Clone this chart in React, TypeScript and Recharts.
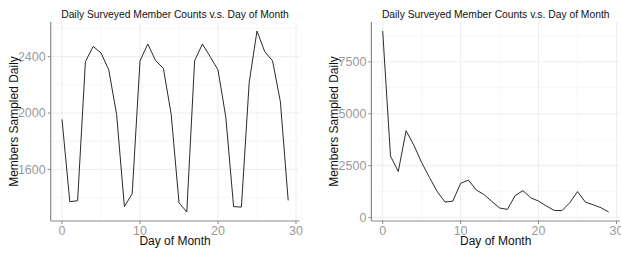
import React from 'react';
import { LineChart, Line, XAxis, YAxis, CartesianGrid } from 'recharts';

const days = [0, 1, 2, 3, 4, 5, 6, 7, 8, 9, 10, 11, 12, 13, 14, 15, 16, 17, 18, 19, 20, 21, 22, 23, 24, 25, 26, 27, 28, 29];
const leftCounts = [1955, 1371, 1378, 2365, 2473, 2426, 2306, 1990, 1336, 1428, 2370, 2490, 2372, 2317, 1990, 1364, 1298, 2370, 2490, 2400, 2306, 1972, 1336, 1333, 2218, 2582, 2435, 2370, 2080, 1380];
const rightCounts = [8983, 2961, 2220, 4183, 3484, 2647, 1934, 1250, 746, 794, 1650, 1806, 1331, 1108, 775, 461, 394, 1060, 1298, 950, 794, 556, 347, 333, 713, 1250, 746, 618, 475, 271];

const xMajorTicks = [0, 10, 20, 30];
const xMinorTicks = [5, 15, 25];
const leftYMajor = [1600, 2000, 2400];
const leftYMinor = [1400, 1800, 2200, 2600];
const rightYMajor = [0, 2500, 5000, 7500];
const rightYMinor = [1250, 3750, 6250, 8750];

const plotTitle = 'Daily Surveyed Member Counts v.s. Day of Month';
const xTitle = 'Day of Month';
const yTitle = 'Members Sampled Daily';

const leftData = days.map((d, i) => ({ day: d, count: leftCounts[i] }));
const rightData = days.map((d, i) => ({ day: d, count: rightCounts[i] }));

const FONT = '"Liberation Sans", Arial, sans-serif';
const AXIS = '#8a8a8a';
const TICK_TEXT = '#9a9a9a';
const TICK_STYLE = { fill: TICK_TEXT, fontSize: 12.5, style: { fontSize: '12.5px' } };

type PanelProps = {
  data: { day: number; count: number }[];
  width: number;
  yAxisWidth: number;
  marginRight: number;
  yDomain: [number, number];
  yMajor: number[];
  yMinor: number[];
  yLabelOffset: number;
};

function Panel({ data, width, yAxisWidth, marginRight, yDomain, yMajor, yMinor, yLabelOffset }: PanelProps) {
  return (
    <LineChart width={width} height={253} data={data} margin={{ top: 22, right: marginRight, left: 0, bottom: 0 }}>
      <CartesianGrid horizontalValues={yMinor} verticalValues={xMinorTicks} stroke="#f4f4f4" strokeWidth={0.7} />
      <CartesianGrid horizontalValues={yMajor} verticalValues={xMajorTicks} stroke="#ededed" strokeWidth={1} />
      <XAxis
        dataKey="day"
        type="number"
        domain={[-1.45, 30.45]}
        allowDataOverflow
        ticks={xMajorTicks}
        interval={0}
        height={32}
        tickSize={3}
        tickMargin={2}
        axisLine={{ stroke: AXIS, strokeWidth: 1.2 }}
        tickLine={{ stroke: AXIS, strokeWidth: 1 }}
        tick={TICK_STYLE}
        label={{ value: xTitle, position: 'insideBottom', offset: 8, fill: '#111', fontSize: 12 }}
      />
      <YAxis
        type="number"
        domain={yDomain}
        allowDataOverflow
        ticks={yMajor}
        interval={0}
        width={yAxisWidth}
        tickSize={3}
        tickMargin={2}
        axisLine={{ stroke: AXIS, strokeWidth: 1.2 }}
        tickLine={{ stroke: AXIS, strokeWidth: 1 }}
        tick={TICK_STYLE}
        label={{
          value: yTitle,
          angle: -90,
          position: 'insideLeft',
          offset: yLabelOffset,
          fill: '#111',
          fontSize: 12,
          style: { textAnchor: 'middle' },
        }}
      />
      <Line type="linear" dataKey="count" stroke="#2a2a2a" strokeWidth={1} dot={false} isAnimationActive={false} />
    </LineChart>
  );
}

export default function App() {
  return (
    <div style={{ position: 'absolute', left: 0, top: 0, width: 621, height: 253, background: '#fff', fontFamily: FONT, overflow: 'hidden' }}>
      <div style={{ position: 'absolute', left: 0, top: 0 }}>
        <Panel
          data={leftData}
          width={310}
          yAxisWidth={50.7}
          marginRight={10.5}
          yDomain={[1234, 2646]}
          yMajor={leftYMajor}
          yMinor={leftYMinor}
          yLabelOffset={13.5}
        />
      </div>
      <div style={{ position: 'absolute', left: 310, top: 0 }}>
        <Panel
          data={rightData}
          width={311}
          yAxisWidth={61.4}
          marginRight={1}
          yDomain={[-165, 9419]}
          yMajor={rightYMajor}
          yMinor={rightYMinor}
          yLabelOffset={23.5}
        />
      </div>
      <svg width={621} height={253} style={{ position: 'absolute', left: 0, top: 0, pointerEvents: 'none' }}>
        <text x={175} y={18.3} textAnchor="middle" fontSize={10.3} fill="#111">{plotTitle}</text>
        <text x={495.7} y={18.3} textAnchor="middle" fontSize={10.3} fill="#111">{plotTitle}</text>
      </svg>
    </div>
  );
}
